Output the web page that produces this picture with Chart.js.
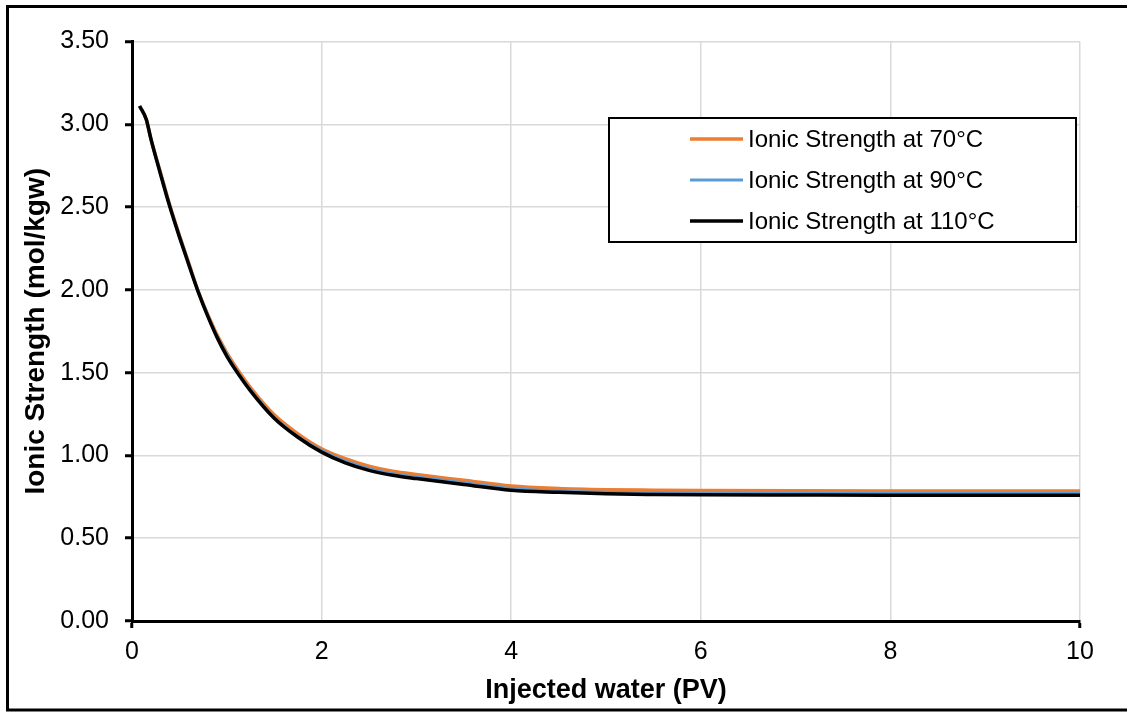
<!DOCTYPE html>
<html>
<head>
<meta charset="utf-8">
<script src="https://cdn.jsdelivr.net/npm/chart.js@4/dist/chart.umd.min.js"></script>
<style>
  html, body { margin: 0; padding: 0; background: #fff; }
  #chart { display: block; }
</style>
</head>
<body>
<canvas id="chart" width="1127" height="713"></canvas>
<script>
// injected water (PV) - shared x values for the three runs
const pv = [0.08, 0.15, 0.2, 0.3, 0.4, 0.5, 0.6, 0.7, 0.8, 0.9, 1.0, 1.1, 1.25, 1.5, 1.75, 2.0, 2.25, 2.5, 2.75, 3.0, 3.5, 4.0, 4.5, 5.0, 5.5, 6.0, 7.0, 8.0, 9.0, 10.0];

const is70 = [3.11, 3.03, 2.91, 2.71, 2.51, 2.33, 2.16, 1.99, 1.85, 1.725, 1.62, 1.53, 1.41, 1.245, 1.13, 1.04, 0.98, 0.935, 0.905, 0.885, 0.85, 0.815, 0.80, 0.793, 0.79, 0.788, 0.786, 0.785, 0.785, 0.785];
const is90 = [3.11, 3.03, 2.91, 2.705, 2.505, 2.325, 2.155, 1.99, 1.845, 1.715, 1.61, 1.515, 1.395, 1.23, 1.115, 1.03, 0.965, 0.92, 0.89, 0.87, 0.835, 0.80, 0.785, 0.777, 0.774, 0.772, 0.771, 0.77, 0.77, 0.77];
const is110 = [3.11, 3.03, 2.91, 2.70, 2.50, 2.32, 2.15, 1.985, 1.84, 1.71, 1.60, 1.51, 1.39, 1.225, 1.11, 1.02, 0.955, 0.91, 0.88, 0.86, 0.825, 0.79, 0.777, 0.768, 0.764, 0.762, 0.761, 0.76, 0.76, 0.76];

const seriesLabels = ['Ionic Strength at 70°C', 'Ionic Strength at 90°C', 'Ionic Strength at 110°C'];
const seriesColors = ['#ED7D31', '#5B9BD5', '#000000'];

const FONT = '"Liberation Sans", Arial, sans-serif';

const toPts = ys => pv.map((x, i) => ({ x, y: ys[i] }));

// outer frame + legend box drawn on the canvas
const framePlugin = {
  id: 'frame',
  beforeDraw(chart) {
    const c = chart.ctx;
    c.save();
    c.fillStyle = '#fff';
    c.fillRect(0, 0, chart.width, chart.height);
    c.restore();
  },
  afterDraw(chart) {
    const c = chart.ctx;
    c.save();
    c.strokeStyle = '#000';
    c.lineWidth = 3;
    c.strokeRect(7.5, 6.5, 1200, 703.5);

    // legend
    c.lineWidth = 2;
    c.fillStyle = '#fff';
    c.fillRect(609, 118, 467, 124);
    c.strokeRect(609, 118, 467, 124);
    c.font = '24px ' + FONT;
    c.textBaseline = 'middle';
    c.textAlign = 'left';
    chart.data.datasets.forEach((ds, i) => {
      const y = 139 + i * 41;
      c.strokeStyle = ds.borderColor;
      c.lineWidth = ds.borderWidth;
      c.beginPath();
      c.moveTo(690, y);
      c.lineTo(743, y);
      c.stroke();
      c.fillStyle = '#000';
      c.fillText(ds.label, 748, y + 1);
    });
    c.restore();
  }
};

new Chart(document.getElementById('chart'), {
  type: 'line',
  data: {
    datasets: [
      { label: seriesLabels[0], data: toPts(is70), borderColor: seriesColors[0], borderWidth: 3.5, order: 3 },
      { label: seriesLabels[1], data: toPts(is90), borderColor: seriesColors[1], borderWidth: 3, order: 2 },
      { label: seriesLabels[2], data: toPts(is110), borderColor: seriesColors[2], borderWidth: 3.5, order: 1 }
    ]
  },
  options: {
    responsive: false,
    animation: false,
    devicePixelRatio: 1,
    layout: { padding: { left: 0, top: 41.5, right: 47, bottom: 0 } },
    elements: {
      point: { radius: 0 },
      line: { cubicInterpolationMode: 'monotone', fill: false }
    },
    plugins: { legend: { display: false }, tooltip: { enabled: false } },
    scales: {
      x: {
        type: 'linear', min: 0, max: 10,
        afterFit: ax => { ax.height = 92; },
        ticks: { stepSize: 2, padding: 9, color: '#000', font: { family: FONT, size: 25 } },
        grid: {
          color: '#d9d9d9', lineWidth: 1.5, tickLength: 7,
          tickColor: ctx => (ctx.tick && (ctx.tick.value === 0 || ctx.tick.value === 10)) ? '#000' : 'rgba(0,0,0,0)',
          tickWidth: 3
        },
        border: { color: '#000', width: 3 },
        title: {
          display: true, text: 'Injected water (PV)', color: '#000',
          font: { family: FONT, size: 27, weight: 'bold' },
          padding: { top: 0, bottom: 6 }
        }
      },
      y: {
        min: 0, max: 3.5,
        afterFit: ax => { ax.width = 132; },
        ticks: { stepSize: 0.5, padding: 16, color: '#000', font: { family: FONT, size: 25 }, callback: v => v.toFixed(2) },
        grid: { color: '#d9d9d9', lineWidth: 1.5, tickLength: 7, tickColor: '#000', tickWidth: 3 },
        border: { color: '#000', width: 3 },
        title: {
          display: true, text: 'Ionic Strength (mol/kgw)', color: '#000',
          font: { family: FONT, size: 28, weight: 'bold' },
          padding: { top: 19, bottom: 0 }
        }
      }
    }
  },
  plugins: [framePlugin]
});
</script>
</body>
</html>
